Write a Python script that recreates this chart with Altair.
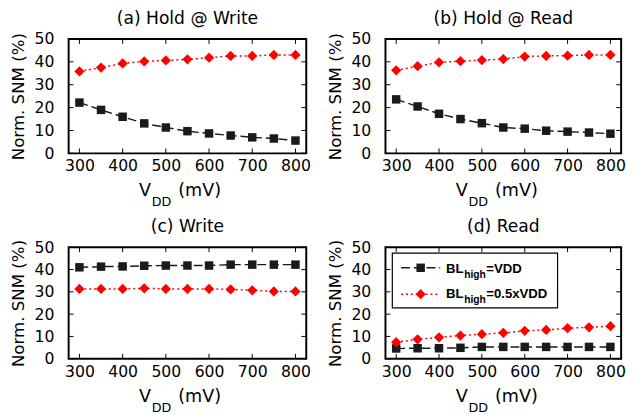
import altair as alt
import pandas as pd

# ---------------- data ----------------
vdd = [300, 350, 400, 450, 500, 550, 600, 650, 700, 750, 800]

hold_write_full = [22.2, 19.0, 16.0, 13.1, 11.3, 9.7, 8.7, 7.8, 7.0, 6.5, 5.6]
hold_write_half = [35.8, 37.5, 39.3, 40.2, 40.6, 41.1, 41.8, 42.6, 42.6, 43.0, 43.0]

hold_read_full = [23.6, 20.5, 17.3, 15.0, 13.2, 11.3, 10.8, 9.9, 9.5, 9.1, 8.6]
hold_read_half = [36.3, 38.1, 39.8, 40.3, 40.7, 41.2, 42.3, 42.6, 42.7, 43.0, 43.0]

write_full = [41.0, 41.3, 41.4, 41.7, 41.8, 41.8, 41.8, 42.2, 42.2, 42.2, 42.2]
write_half = [31.3, 31.3, 31.3, 31.6, 31.3, 31.3, 31.3, 31.1, 30.7, 30.2, 30.2]

read_full = [4.6, 4.7, 4.7, 4.9, 5.3, 5.3, 5.3, 5.3, 5.3, 5.3, 5.3]
read_half = [7.4, 8.7, 9.6, 10.4, 11.0, 11.6, 12.5, 12.9, 13.7, 14.1, 14.6]

series_names = ["BL_high=VDD", "BL_high=0.5xVDD"]
titles = ["(a) Hold @ Write", "(b) Hold @ Read", "(c) Write", "(d) Read"]

x_ticks = [300, 400, 500, 600, 700, 800]
y_ticks = [0, 10, 20, 30, 40, 50]

BLACK = "#1a1a1a"
RED = "#ff0000"
FONT = "DejaVu Sans"

X_AXIS = alt.Axis(
    values=x_ticks, title=None, tickSize=0, domain=False, grid=False,
    labelFont=FONT, labelFontSize=16, labelColor="black", labelPadding=5,
    labelFlush=False, format="d")
Y_AXIS = alt.Axis(
    values=y_ticks, title="Norm. SNM (%)", tickSize=0, domain=False, grid=False,
    labelFont=FONT, labelFontSize=16, labelColor="black", labelPadding=15,
    titleFont=FONT, titleFontSize=17, titleFontWeight="normal", titleColor="black",
    titlePadding=7, format="d")


def panel(title, full, half, W, H, legend=False):
    df = pd.DataFrame({
        "vdd": vdd * 2,
        "snm": full + half,
        "series": [series_names[0]] * len(vdd) + [series_names[1]] * len(vdd),
    })
    xs = alt.Scale(domain=[275, 825], nice=False, zero=False)
    ys = alt.Scale(domain=[0, 50], nice=False, zero=False)
    x_enc = alt.X("vdd:Q", scale=xs, axis=X_AXIS)
    y_enc = alt.Y("snm:Q", scale=ys, axis=Y_AXIS)

    base = alt.Chart(df)
    full_line = base.transform_filter(alt.datum.series == series_names[0]).mark_line(
        color=BLACK, strokeDash=[9, 4], strokeWidth=1.5).encode(x=x_enc, y=y_enc)
    half_line = base.transform_filter(alt.datum.series == series_names[1]).mark_line(
        color=RED, strokeDash=[2, 3], strokeWidth=1.5).encode(x=x_enc, y=y_enc)
    full_pts = base.transform_filter(alt.datum.series == series_names[0]).mark_point(
        shape="square", filled=True, color=BLACK, size=75, opacity=1).encode(x=x_enc, y=y_enc)
    half_pts = base.transform_filter(alt.datum.series == series_names[1]).mark_point(
        shape="diamond", filled=True, color=RED, size=110, opacity=1).encode(x=x_enc, y=y_enc)

    ydf = pd.DataFrame({"snm": y_ticks})
    xdf = pd.DataFrame({"vdd": x_ticks})
    tick_style = dict(color="black", strokeWidth=1)
    left_ticks = alt.Chart(ydf).mark_rule(**tick_style).encode(
        y=y_enc, x=alt.value(0), x2=alt.value(5))
    right_ticks = alt.Chart(ydf).mark_rule(**tick_style).encode(
        y=y_enc, x=alt.value(W - 5), x2=alt.value(W))
    bottom_ticks = alt.Chart(xdf).mark_rule(**tick_style).encode(
        x=x_enc, y=alt.value(H - 5), y2=alt.value(H))
    top_ticks = alt.Chart(xdf).mark_rule(**tick_style).encode(
        x=x_enc, y=alt.value(0), y2=alt.value(5))

    one = pd.DataFrame({"a": [0]})
    xt_v = alt.Chart(one).mark_text(text="V", font=FONT, fontSize=18, align="left",
                                    baseline="alphabetic", color="black").encode(
        x=alt.value(72), y=alt.value(H + 44))
    xt_dd = alt.Chart(one).mark_text(text="DD", font=FONT, fontSize=13, align="left",
                                     baseline="alphabetic", color="black").encode(
        x=alt.value(85), y=alt.value(H + 54))
    xt_mv = alt.Chart(one).mark_text(text="(mV)", font=FONT, fontSize=18, align="left",
                                     baseline="alphabetic", color="black").encode(
        x=alt.value(112), y=alt.value(H + 44))

    layers = [full_line, half_line, full_pts, half_pts,
              left_ticks, right_ticks, bottom_ticks, top_ticks, xt_v, xt_dd, xt_mv]

    if legend:
        LF = "Liberation Sans"
        box = alt.Chart(one).mark_rect(fill="white", stroke="black", strokeWidth=1.2).encode(
            x=alt.value(7), x2=alt.value(176), y=alt.value(6), y2=alt.value(62))
        l1 = alt.Chart(one).mark_rule(color=BLACK, strokeWidth=1.5, strokeDash=[9, 4]).encode(
            x=alt.value(16), x2=alt.value(56), y=alt.value(21))
        p1 = alt.Chart(one).mark_point(shape="square", filled=True, color=BLACK, size=75,
                                       opacity=1).encode(x=alt.value(36), y=alt.value(21))
        l2 = alt.Chart(one).mark_rule(color=RED, strokeWidth=1.5, strokeDash=[2, 3]).encode(
            x=alt.value(16), x2=alt.value(56), y=alt.value(48))
        p2 = alt.Chart(one).mark_point(shape="diamond", filled=True, color=RED, size=110,
                                       opacity=1).encode(x=alt.value(36), y=alt.value(48))
        txt = []
        for yb, rest in [(26, "=VDD"), (52, "=0.5xVDD")]:
            txt.append(alt.Chart(one).mark_text(text="BL", font=LF, fontSize=13.5, fontWeight="bold",
                                                align="left", baseline="alphabetic", color="black").encode(
                x=alt.value(62), y=alt.value(yb)))
            txt.append(alt.Chart(one).mark_text(text="high", font=LF, fontSize=10.5, fontWeight="bold",
                                                align="left", baseline="alphabetic", color="black").encode(
                x=alt.value(80.5), y=alt.value(yb + 5)))
            txt.append(alt.Chart(one).mark_text(text=rest, font=LF, fontSize=13.5, fontWeight="bold",
                                                align="left", baseline="alphabetic", color="black").encode(
                x=alt.value(103), y=alt.value(yb)))
        layers += [box, l1, p1, l2, p2] + txt

    return alt.layer(*layers).properties(
        width=W, height=H,
        title=alt.TitleParams(title, font=FONT, fontSize=17.5, fontWeight="normal",
                              color="black", anchor="middle", offset=4),
    )


pa = panel(titles[0], hold_write_full, hold_write_half, 243, 117)
pb = panel(titles[1], hold_read_full, hold_read_half, 241, 117)
pc = panel(titles[2], write_full, write_half, 243, 114)
pd_ = panel(titles[3], read_full, read_half, 241, 114, legend=True)

chart = alt.vconcat(
    alt.hconcat(pa, pb, spacing=13),
    alt.hconcat(pc, pd_, spacing=13),
    spacing=7,
).properties(
    padding={"top": -4, "left": 0, "right": 0, "bottom": 0}, background="white"
).configure_view(
    stroke="black", strokeWidth=2
)

chart.save("out.html", embed_options={"renderer": "svg", "actions": False})
